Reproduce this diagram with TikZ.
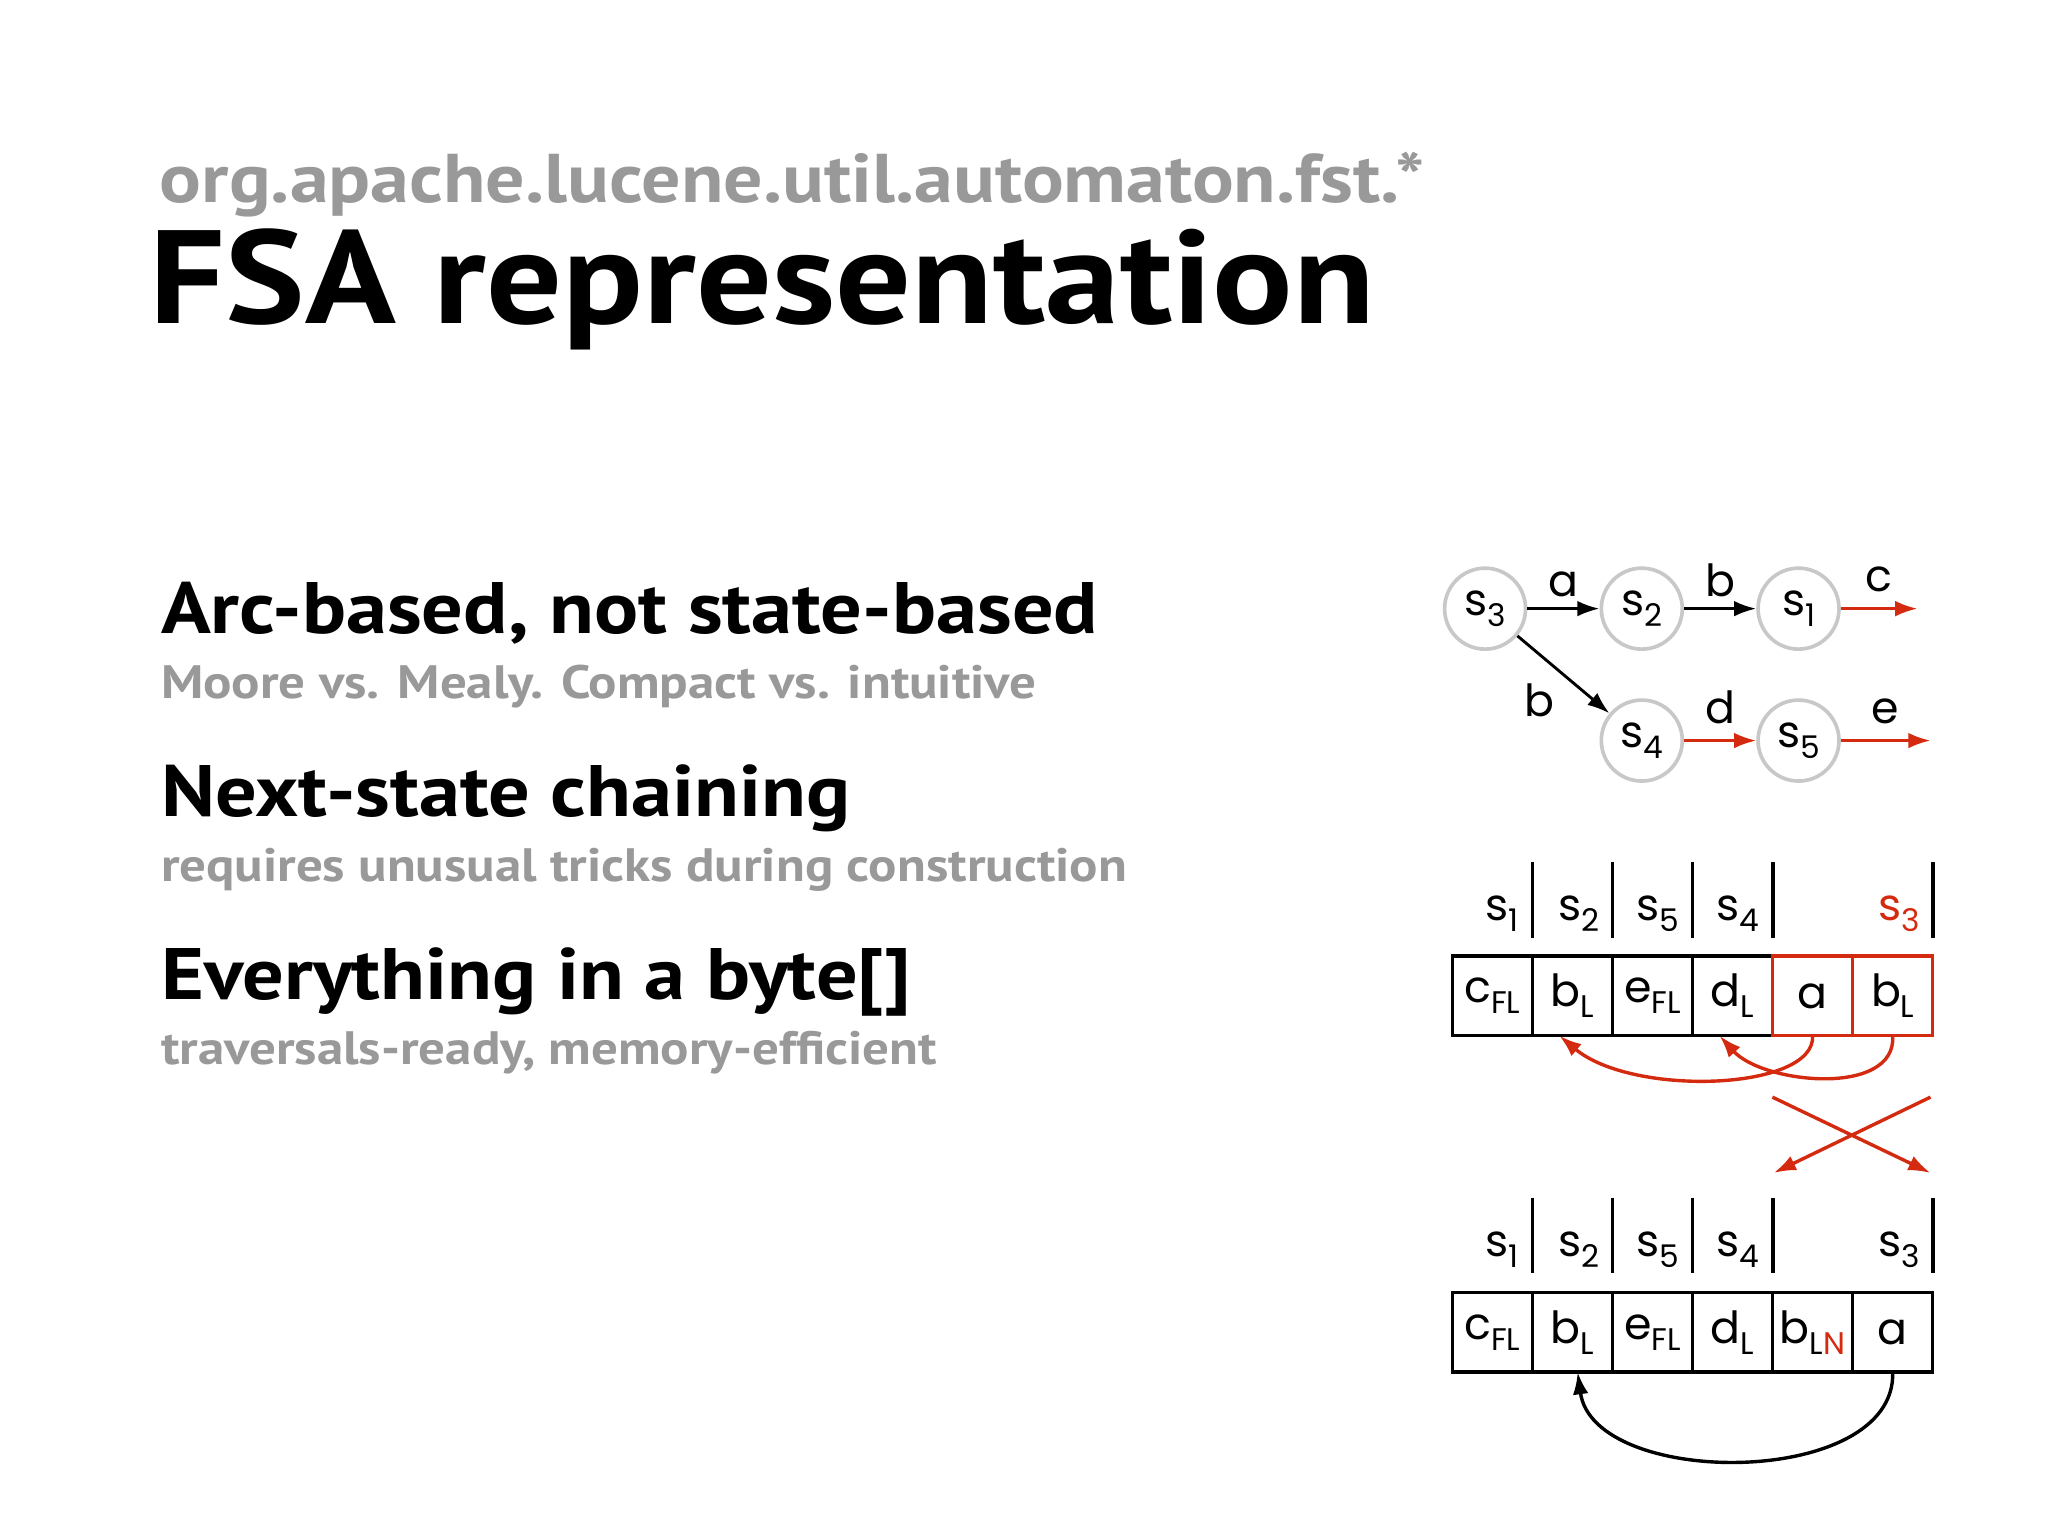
\documentclass[tikz,border=0pt]{standalone}
\usepackage{fontspec}
\setmainfont[FakeStretch=1.13]{PT Sans}
\newfontfamily\dgf{Poppins}
\usetikzlibrary{arrows.meta}
\definecolor{gr}{HTML}{999999}
\definecolor{rd}{HTML}{D42A10}
\definecolor{cg}{HTML}{C8C8C8}
\newcommand\sbs[1]{\raisebox{-0.45ex}{\fontsize{12}{12}\selectfont #1}}
\tikzset{
 st/.style={circle,draw=cg,line width=1.4bp,minimum size=31bp,inner sep=0pt,font=\dgf\fontsize{17}{17}\selectfont},
 cell/.style={draw,line width=1.3bp,minimum width=30.65bp,minimum height=30.5bp,inner sep=0pt,outer sep=0pt,font=\dgf\fontsize{17}{17}\selectfont},
 lab/.style={font=\dgf\fontsize{17}{17}\selectfont,inner sep=1pt},
 tip/.style={-{Latex[length=8.5bp,width=6bp]}},
 sep/.style={line width=1.4bp},
}
\begin{document}
\begin{tikzpicture}[x=0.5bp,y=-0.5bp]
\useasboundingbox (0,0) rectangle (1568,1176);
\node[anchor=base west,text=gr,font=\bfseries\fontsize{26.5}{26}\selectfont,inner sep=0] (pkg) at (122,155) {org.apache.lucene.util.automaton.fst.*};
\node[anchor=base west,font=\bfseries\fontsize{51}{51}\selectfont,inner sep=0] (title) at (114,248) {FSA representation};
\node[anchor=base west,font=\bfseries\fontsize{28}{28}\selectfont,inner sep=0] (h1) at (123,485) {Arc-based, not state-based};
\node[anchor=base west,text=gr,font=\bfseries\fontsize{18}{18}\selectfont,inner sep=0] (t1) at (123,535) {Moore vs. Mealy. Compact vs. intuitive};
\node[anchor=base west,font=\bfseries\fontsize{28}{28}\selectfont,inner sep=0] (h2) at (123,625) {Next-state chaining};
\node[anchor=base west,text=gr,font=\bfseries\fontsize{18}{18}\selectfont,inner sep=0] (t2) at (123,675) {requires unusual tricks during construction};
\node[anchor=base west,font=\bfseries\fontsize{28}{28}\selectfont,inner sep=0] (h3) at (123,765) {Everything in a byte[]};
\node[anchor=base west,text=gr,font=\bfseries\fontsize{18}{18}\selectfont,inner sep=0] (t3) at (123,815) {traversals-ready, memory-efficient};
% automaton
\node[st] (s3) at (1137,466) {s\sbs{3}};
\node[st] (s2) at (1257,466) {s\sbs{2}};
\node[st] (s1) at (1377,466) {s\sbs{1}};
\node[st] (s4) at (1257,567) {s\sbs{4}};
\node[st] (s5) at (1377,567) {s\sbs{5}};
\coordinate (c1) at (1468,466);
\coordinate (e1) at (1478,567);
\draw[tip,line width=1.1bp] (s3) -- node[lab,above=3bp]{a} (s2);
\draw[tip,line width=1.1bp] (s2) -- node[lab,above=3bp]{b} (s1);
\draw[tip,line width=1.1bp] (s3) -- node[lab,below left=2bp]{b} (s4);
\draw[tip,rd,line width=1.1bp] (s1) -- node[lab,above=5bp,black]{c} (c1);
\draw[tip,rd,line width=1.1bp] (s4) -- node[lab,above=5bp,black]{d} (s5);
\draw[tip,rd,line width=1.1bp] (s5) -- node[lab,above=5bp,black]{e} (e1);
% array 1
\node[cell] (a1) at (1142.6,762.5) {c\sbs{FL}};
\node[cell] (a2) at (1203.9,762.5) {b\sbs{L}};
\node[cell] (a3) at (1265.2,762.5) {e\sbs{FL}};
\node[cell] (a4) at (1326.5,762.5) {d\sbs{L}};
\node[cell,draw=rd] (a5) at (1387.8,762.5) {a};
\node[cell,draw=rd] (a6) at (1449.1,762.5) {b\sbs{L}};
\foreach \x in {1173.3,1234.6,1295.9,1357.2,1479.8} \draw[sep] (\x,660) -- (\x,718);
\node[lab,anchor=base east] (l1) at (1165,705) {s\sbs{1}};
\node[lab,anchor=base east] (l2) at (1227,705) {s\sbs{2}};
\node[lab,anchor=base east] (l5) at (1288,705) {s\sbs{5}};
\node[lab,anchor=base east] (l4) at (1349,705) {s\sbs{4}};
\node[lab,anchor=base east,text=rd] (l3) at (1472,705) {s\sbs{3}};
\draw[tip,rd,line width=1.3bp] (a5.south) .. controls (1390,835) and (1250,840) .. ([xshift=-5]a2.south);
\draw[tip,rd,line width=1.3bp] (a6.south) .. controls (1452,840) and (1350,830) .. ([xshift=-5]a4.south);
% cross
\coordinate (x1) at (1357,840); \coordinate (x2) at (1478,898);
\coordinate (x3) at (1478,840); \coordinate (x4) at (1358,898);
\draw[tip,rd,line width=1.3bp] (x1) -- (x2);
\draw[tip,rd,line width=1.3bp] (x3) -- (x4);
% array 2
\node[cell] (b1) at (1142.6,1020) {c\sbs{FL}};
\node[cell] (b2) at (1203.9,1020) {b\sbs{L}};
\node[cell] (b3) at (1265.2,1020) {e\sbs{FL}};
\node[cell] (b4) at (1326.5,1020) {d\sbs{L}};
\node[cell] (b5) at (1387.8,1020) {b\sbs{L\textcolor{rd}{N}}};
\node[cell] (b6) at (1449.1,1020) {a};
\foreach \x in {1173.3,1234.6,1295.9,1357.2,1479.8} \draw[sep] (\x,917) -- (\x,975);
\node[lab,anchor=base east] (m1) at (1165,962) {s\sbs{1}};
\node[lab,anchor=base east] (m2) at (1227,962) {s\sbs{2}};
\node[lab,anchor=base east] (m5) at (1288,962) {s\sbs{5}};
\node[lab,anchor=base east] (m4) at (1349,962) {s\sbs{4}};
\node[lab,anchor=base east] (m3) at (1472,962) {s\sbs{3}};
\draw[tip,line width=1.3bp] (b6.south) .. controls (1452,1140) and (1220,1140) .. ([xshift=2]b2.south);
\end{tikzpicture}
\end{document}
